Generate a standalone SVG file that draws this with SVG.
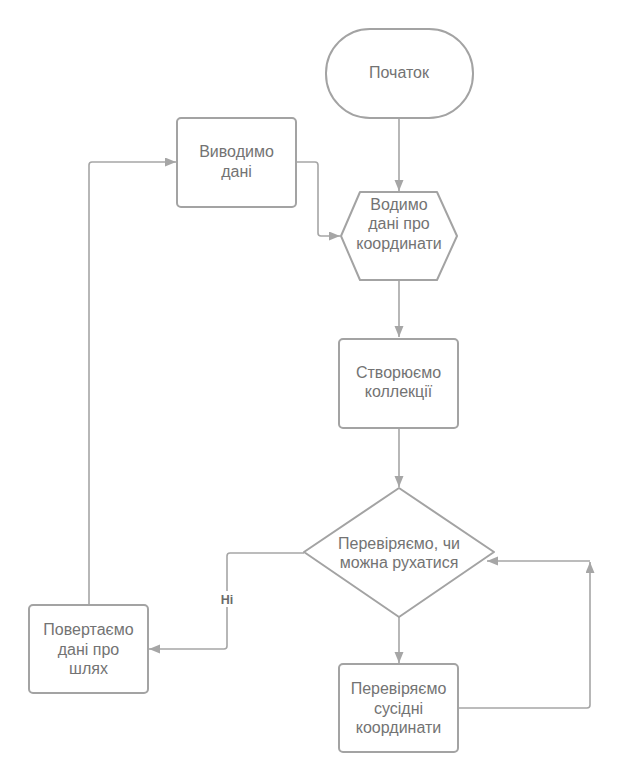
<svg xmlns="http://www.w3.org/2000/svg" width="624" height="782" viewBox="0 0 624 782">
<defs>
<marker id="arr" markerUnits="userSpaceOnUse" markerWidth="12" markerHeight="10" refX="11" refY="4.5" orient="auto">
<path d="M0,0 L11,4.5 L0,9 z" fill="#a6a6a6"/>
</marker>
<style>
.shape{fill:#ffffff;stroke:#a3a3a3;stroke-width:2;stroke-linejoin:round}
.conn{fill:none;stroke:#a6a6a6;stroke-width:1.6;marker-end:url(#arr)}
.t{font-family:"Liberation Sans",Arial,sans-serif;font-size:16px;fill:#737373;text-anchor:middle}
.lbl{font-family:"Liberation Sans",Arial,sans-serif;font-size:12.5px;font-weight:bold;fill:#6a6a6a;text-anchor:middle}
</style>
</defs>
<rect width="624" height="782" fill="#ffffff"/>
<g id="connectors">
<path class="conn" d="M399 118 V191"/>
<path class="conn" d="M399 280 V337"/>
<path class="conn" d="M399 428 V487"/>
<path class="conn" d="M399 617 V663"/>
<path class="conn" d="M296 162 H315 Q318 162 318 165 V233 Q318 236 321 236 H340"/>
<path class="conn" d="M89 605 V165 Q89 162 92 162 H176"/>
<path class="conn" d="M304 553 H230 Q227 553 227 556 V646 Q227 649 224 649 H149"/>
<path class="conn" d="M458 708 H587 Q590 708 590 705 V562"/>
<path class="conn" d="M590 561 H487"/>
<rect x="218" y="591" width="18" height="16" fill="#ffffff"/>
<text class="lbl" x="227" y="604">Ні</text>
</g>
<g id="start">
<rect class="shape" x="326" y="29" width="147" height="89" rx="44" ry="44"/>
<text class="t" x="399" y="78">Початок</text>
</g>
<g id="output">
<rect class="shape" x="177" y="118" width="119" height="89" rx="4"/>
<text class="t" x="236.5" y="157">Виводимо</text>
<text class="t" x="236.5" y="177">дані</text>
</g>
<g id="input">
<path class="shape" d="M341 236 L360 192 H437 L457 236 L437 280 H360 Z"/>
<text class="t" x="399" y="210">Водимо</text>
<text class="t" x="399" y="229">дані про</text>
<text class="t" x="399" y="249">координати</text>
</g>
<g id="collections">
<rect class="shape" x="339" y="339" width="119" height="89" rx="4"/>
<text class="t" x="398.5" y="378">Створюємо</text>
<text class="t" x="398.5" y="397">коллекції</text>
</g>
<g id="decision">
<path class="shape" d="M399 488 L494 552 L399 617 L304 552 Z"/>
<text class="t" x="399" y="549">Перевіряємо, чи</text>
<text class="t" x="399" y="568">можна рухатися</text>
</g>
<g id="return">
<rect class="shape" x="29" y="605" width="119" height="88" rx="4"/>
<text class="t" x="88.5" y="635">Повертаємо</text>
<text class="t" x="88.5" y="655">дані про</text>
<text class="t" x="88.5" y="674">шлях</text>
</g>
<g id="neighbours">
<rect class="shape" x="339" y="664" width="119" height="88" rx="4"/>
<text class="t" x="398.5" y="694">Перевіряємо</text>
<text class="t" x="398.5" y="714">сусідні</text>
<text class="t" x="398.5" y="733">координати</text>
</g>
</svg>
